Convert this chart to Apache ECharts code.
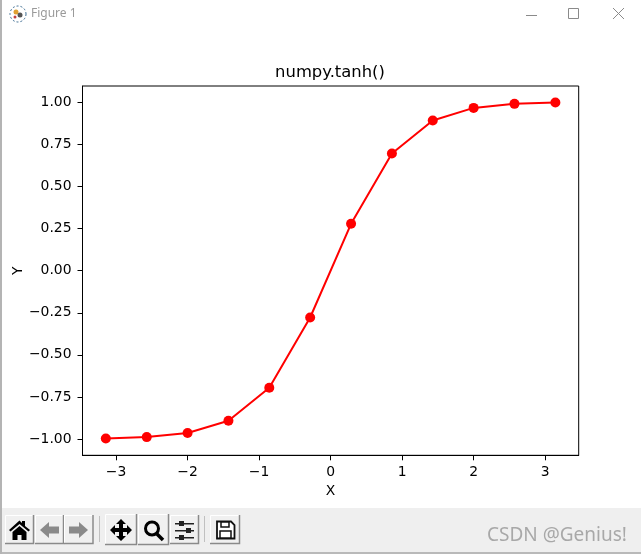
<!DOCTYPE html>
<html><head><meta charset="utf-8">
<style>html,body{margin:0;padding:0;background:#fff}#c{width:641px;height:554px}</style>
<script src="https://cdn.jsdelivr.net/npm/echarts@6/dist/echarts.min.js"></script>
</head><body><div id="c"></div>
<script>
const xValues = [-3.142,-2.570,-1.999,-1.428,-0.857,-0.286,0.286,0.857,1.428,1.999,2.570,3.142];
const yValues = [-0.996,-0.988,-0.964,-0.891,-0.695,-0.278,0.278,0.695,0.891,0.966,0.990,0.998];
const xTicks = [-3,-2,-1,0,1,2,3];
const yTicks = [-1,-0.75,-0.5,-0.25,0,0.25,0.5,0.75,1];
const titleText = 'numpy.tanh()';
const xName = 'X', yName = 'Y';
const FONT = '"DejaVu Sans"';

function btn(x,y,w,h){return [
  {type:'rect',shape:{x:x,y:y,width:w,height:h},style:{fill:'#f0f0f0'}},
  {type:'polyline',shape:{points:[[x+.5,y+h],[x+.5,y+.5],[x+w,y+.5]]},style:{stroke:'#ffffff',fill:null,lineWidth:1}},
  {type:'polyline',shape:{points:[[x+w-.5,y],[x+w-.5,y+h-.5],[x,y+h-.5]]},style:{stroke:'#8a8a8a',fill:null,lineWidth:1.5}}
];}
const P = (pts,fill)=>({type:'polygon',shape:{points:pts},style:{fill:fill||'#000'}});
const R = (x,y,w,h,fill,stroke,lw)=>({type:'rect',shape:{x,y,width:w,height:h},style:{fill:fill,stroke:stroke||null,lineWidth:lw||1}});
const L = (x1,y1,x2,y2,c,w)=>({type:'line',shape:{x1,y1,x2,y2},style:{stroke:c,lineWidth:w}});

const chrome = [
  {type:'rect',z:-5,shape:{x:0,y:508,width:641,height:44},style:{fill:'#efefef'}},
  {type:'rect',z:-5,shape:{x:0,y:552,width:641,height:2},style:{fill:'#b9b9b9'}},
  {type:'rect',z:-5,shape:{x:0,y:0,width:2,height:554},style:{fill:'#b4b4b4'}},
  {type:'text',style:{x:31,y:14,text:'Figure 1',font:'12px "Noto Sans"',fill:'#9a9a9a',textVerticalAlign:'middle'}},
  {type:'circle',shape:{cx:18,cy:14,r:8},style:{fill:'#fff',stroke:'#3a6a90',lineWidth:1,lineDash:[2,2]}},
  {type:'circle',shape:{cx:16,cy:12,r:2.5},style:{fill:'#e0a030'}},
  {type:'circle',shape:{cx:20,cy:15,r:2.5},style:{fill:'#555'}},
  {type:'circle',shape:{cx:15,cy:17,r:1.5},style:{fill:'#c04040'}},
  L(526,15.5,537,15.5,'#8a8a8a',1),
  R(568.5,8.5,10,10,null,'#8a8a8a',1),
  L(613,8,624,19,'#8a8a8a',1),
  L(624,8,613,19,'#8a8a8a',1),
  ...btn(5,515,29,29),...btn(35,515,29,29),...btn(64,515,29.5,29),
  R(99,516,1,26,'#c0c0c0'),
  ...btn(105,514,32,31),...btn(138,514,31,31),...btn(170,515,29,29),
  R(204,516,1,26,'#c0c0c0'),
  ...btn(210,515,30,29),
  P([[9,530],[19.5,520.5],[22,523],[22,521],[25,521],[25,526],[30,530],[28.5,531.5],[19.5,524],[10.5,531.5]]),
  P([[12.5,532],[19.5,526],[26.5,532],[26.5,540],[21.5,540],[21.5,535],[17.5,535],[17.5,540],[12.5,540]]),
  P([[40,530],[49,522],[49,526.5],[59,526.5],[59,533.5],[49,533.5],[49,538]],'#8a8a8a'),
  P([[88,530],[79,522],[79,526.5],[69,526.5],[69,533.5],[79,533.5],[79,538]],'#8a8a8a'),
  P([[121,519],[126,524],[123,524],[123,528],[127,528],[127,525],[132,530],[127,535],[127,532],[123,532],[123,536],[126,536],[121,541],[116,536],[119,536],[119,532],[115,532],[115,535],[110,530],[115,525],[115,528],[119,528],[119,524],[116,524]]),
  {type:'circle',shape:{cx:152,cy:528.5,r:6.5},style:{fill:null,stroke:'#000',lineWidth:3}},
  L(157,534,163,540,'#000',3.5),
  R(175,523,19,1.5,'#222'),R(175,530,19,1.5,'#222'),R(175,537,19,1.5,'#222'),
  R(179,521,5,5,'#222'),R(186,528,5,5,'#222'),R(179,535,5,5,'#222'),
  {type:'polygon',shape:{points:[[217,521.5],[231,521.5],[234.5,525],[234.5,538.5],[217,538.5]]},style:{fill:'#fff',stroke:'#111',lineWidth:1.8}},
  R(221,522,8,5,'#fff','#111',1.5),
  R(220,531,11,7,'#fff','#111',1.5),
  {type:'text',style:{x:487,y:536,text:'CSDN @Genius!',font:'19px "Noto Sans"',fill:'#a8a8a8',textVerticalAlign:'middle'}}
];

const chart = echarts.init(document.getElementById('c'),null,{renderer:'canvas'});
chart.setOption({
  animation:false,
  backgroundColor:'#ffffff',
  title:{text:titleText,left:325,top:60,textAlign:'center',textStyle:{fontFamily:FONT,fontSize:16.4,fontWeight:'normal',color:'#000'}},
  grid:{left:82.5,right:62.3,top:86,bottom:98.7,containLabel:false,outerBoundsMode:'none',show:true,borderColor:'#000',borderWidth:1,backgroundColor:'transparent'},
  xAxis:{type:'value',min:-3.468,max:3.468,name:xName,nameLocation:'middle',nameGap:29,
    nameTextStyle:{fontFamily:FONT,fontSize:13.9,color:'#000'},
    splitLine:{show:false},
    axisLine:{show:true,onZero:false,lineStyle:{color:'#000',width:1}},
    axisTick:{show:true,length:5,customValues:xTicks,lineStyle:{color:'#000',width:1}},
    axisLabel:{show:true,customValues:xTicks,margin:10,fontFamily:FONT,fontSize:13.9,color:'#000',
      formatter:v=>String(v).replace('-','\u2212')}},
  yAxis:{type:'value',min:-1.096,max:1.096,name:yName,nameLocation:'middle',nameGap:57,nameRotate:90,nameMoveOverlap:false,
    nameTextStyle:{fontFamily:FONT,fontSize:13.9,color:'#000'},
    splitLine:{show:false},
    axisLine:{show:true,onZero:false,lineStyle:{color:'#000',width:1}},
    axisTick:{show:true,length:5,customValues:yTicks,lineStyle:{color:'#000',width:1}},
    axisLabel:{show:true,customValues:yTicks,margin:11,fontFamily:FONT,fontSize:13.9,color:'#000',
      formatter:v=>v.toFixed(2).replace('-','\u2212')}},
  series:[{type:'line',data:xValues.map((x,i)=>[x,yValues[i]]),symbol:'circle',symbolSize:10,showSymbol:true,
    lineStyle:{color:'#ff0000',width:2},itemStyle:{color:'#ff0000'},clip:false}],
  graphic:{elements:chrome.map(e=>({silent:true,...e}))}
});
</script></body></html>
